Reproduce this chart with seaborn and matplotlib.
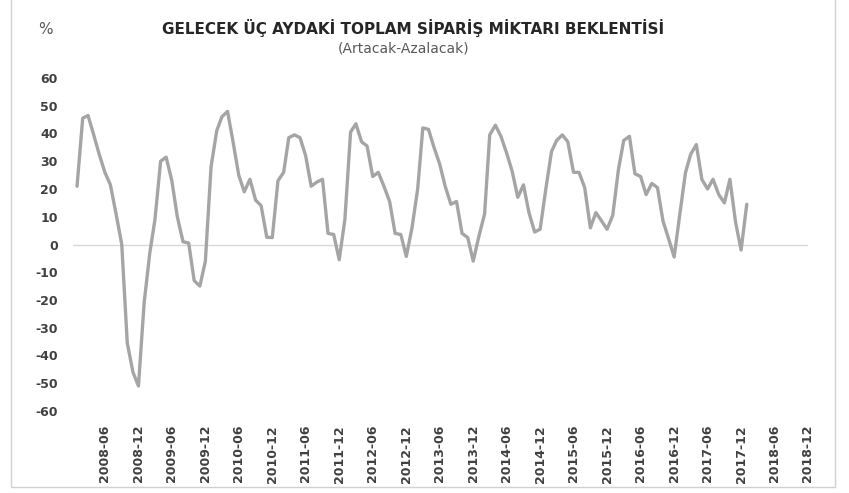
import numpy as np
import pandas as pd
import matplotlib
matplotlib.use('Agg')
import matplotlib.pyplot as plt
import matplotlib.dates as mdates
from matplotlib.patches import Rectangle
import seaborn as sns

# Monthly expectation balance (Artacak - Azalacak), 2008-01 .. 2018-01
values = [
    21, 45.5, 46.5, 39.5, 32.5, 26, 21.5, 11, 0, -35.5, -46, -51,
    -21, -3, 9, 30, 31.5, 23, 10, 1, 0.5, -13, -15, -6,
    28, 41, 46, 48, 37, 25, 19, 23.5, 16, 14, 2.6, 2.5,
    23, 26, 38.5, 39.5, 38.5, 32, 21, 22.5, 23.5, 4, 3.6, -5.5,
    9, 40.5, 43.5, 37, 35.5, 24.5, 26, 21, 15.5, 4, 3.6, -4.3,
    6, 20, 42, 41.5, 35, 29, 21, 14.5, 15.5, 4, 2.5, -6,
    3, 11, 39.5, 43, 39, 33, 26.5, 17, 21.5, 11.5, 4.5, 5.5,
    20, 33.5, 37.5, 39.5, 37, 26, 26, 20.5, 6, 11.5, 8.5, 5.5,
    10.5, 27, 37.5, 39, 25.5, 24.5, 18, 22, 20.5, 8.5, 2, -4.5,
    11, 26, 32.5, 36, 23.5, 20, 23.5, 18, 15, 23.5, 8, -2,
    14.5,
]
dates = pd.date_range('2008-01-01', periods=len(values), freq='MS')
tick_dates = pd.date_range('2008-06-01', '2018-12-01', freq='6MS')
y_ticks = list(range(-60, 61, 10))

title = "GELECEK ÜÇ AYDAKİ TOPLAM SİPARİŞ MİKTARI BEKLENTİSİ"
subtitle = "(Artacak-Azalacak)"

df = pd.DataFrame({"date": dates, "value": values})

sns.set_theme(style="white")
plt.rcParams['font.family'] = ['DejaVu Sans']

fig = plt.figure(figsize=(8.49, 4.93), dpi=100)
ax = fig.add_axes([73 / 849, 1 - 411 / 493, (808 - 73) / 849, (411 - 78) / 493])

ax.axhline(0, color="#d9d9d9", lw=1.0, zorder=1)
sns.lineplot(data=df, x="date", y="value", ax=ax, color="#a5a5a5", lw=2.4, zorder=2)

ax.set_ylim(-60, 60)
ax.set_xlim(pd.Timestamp('2007-12-10'), pd.Timestamp('2018-12-01'))
ax.set_yticks(y_ticks)
ax.set_yticklabels([str(v) for v in y_ticks], fontsize=9, fontweight='bold', color="#404040")
ax.set_xticks(tick_dates)
ax.set_xticklabels([d.strftime('%Y-%m') for d in tick_dates], rotation=90,
                   fontsize=9, fontweight='bold', color="#404040", va='top')
ax.tick_params(axis='x', length=0, pad=10)
ax.tick_params(axis='y', length=0, pad=11)
ax.set_xlabel("")
ax.set_ylabel("")
for s in ax.spines.values():
    s.set_visible(False)

fig.text(413 / 849, 1 - 28 / 493, title, ha='center', va='center',
         fontsize=11, fontweight='bold', color="#262626")
fig.text(404 / 849, 1 - 48 / 493, subtitle, ha='center', va='center',
         fontsize=10, color="#595959")
fig.text(45 / 849, 1 - 29 / 493, "%", ha='center', va='center',
         fontsize=11, color="#595959")

# outer chart border
fig.patches.append(Rectangle((11 / 849, 1 - 487 / 493), (835 - 11) / 849, 487 / 493 + 0.05,
                             transform=fig.transFigure, fill=False,
                             edgecolor="#d0d0d0", lw=1.0))

fig.savefig("out.png", dpi=100)
